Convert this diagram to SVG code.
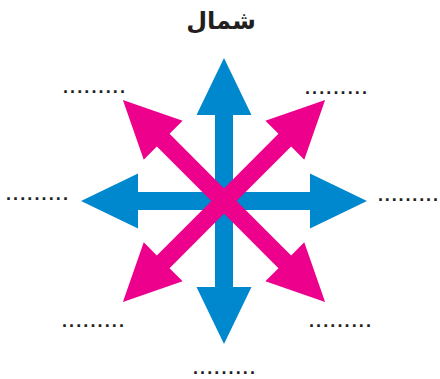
<svg xmlns="http://www.w3.org/2000/svg" width="440" height="379" viewBox="0 0 440 379">
<style>
.blue{fill:#0088CF}
.pink{fill:#EC008C}
.dots{font-family:"Liberation Sans",Arial,sans-serif;font-size:18px;font-weight:bold;fill:#231F20}
.title{font-family:"DejaVu Sans","Noto Sans",sans-serif;font-size:24px;font-weight:bold;fill:#231F20}
</style>
<defs>
<path id="arrow" d="M-9,0 L-9,-86 L-27.5,-86 L0,-143 L27.5,-86 L9,-86 L9,0 Z"/>
</defs>
<rect width="440" height="379" fill="#fff"/>
<g id="title"><text class="title" x="221" y="29" text-anchor="middle">شمال</text></g>
<g id="connectors" transform="translate(224,201)">
<g id="blue-arrows" class="blue">
<use href="#arrow" transform="rotate(0)"/>
<use href="#arrow" transform="rotate(90)"/>
<use href="#arrow" transform="rotate(180)"/>
<use href="#arrow" transform="rotate(270)"/>
</g>
<g id="pink-arrows" class="pink">
<use href="#arrow" transform="rotate(45)"/>
<use href="#arrow" transform="rotate(135)"/>
<use href="#arrow" transform="rotate(225)"/>
<use href="#arrow" transform="rotate(315)"/>
</g>
</g>
<g id="label-nw"><text class="dots" x="63" y="93" textLength="62" lengthAdjust="spacing">.........</text></g>
<g id="label-ne"><text class="dots" x="305" y="94" textLength="62" lengthAdjust="spacing">.........</text></g>
<g id="label-w"><text class="dots" x="6" y="200" textLength="62" lengthAdjust="spacing">.........</text></g>
<g id="label-e"><text class="dots" x="378" y="201" textLength="60" lengthAdjust="spacing">.........</text></g>
<g id="label-sw"><text class="dots" x="62" y="327" textLength="62" lengthAdjust="spacing">.........</text></g>
<g id="label-se"><text class="dots" x="309" y="327" textLength="62" lengthAdjust="spacing">.........</text></g>
<g id="label-s"><text class="dots" x="193" y="374" textLength="62" lengthAdjust="spacing">.........</text></g>
</svg>
